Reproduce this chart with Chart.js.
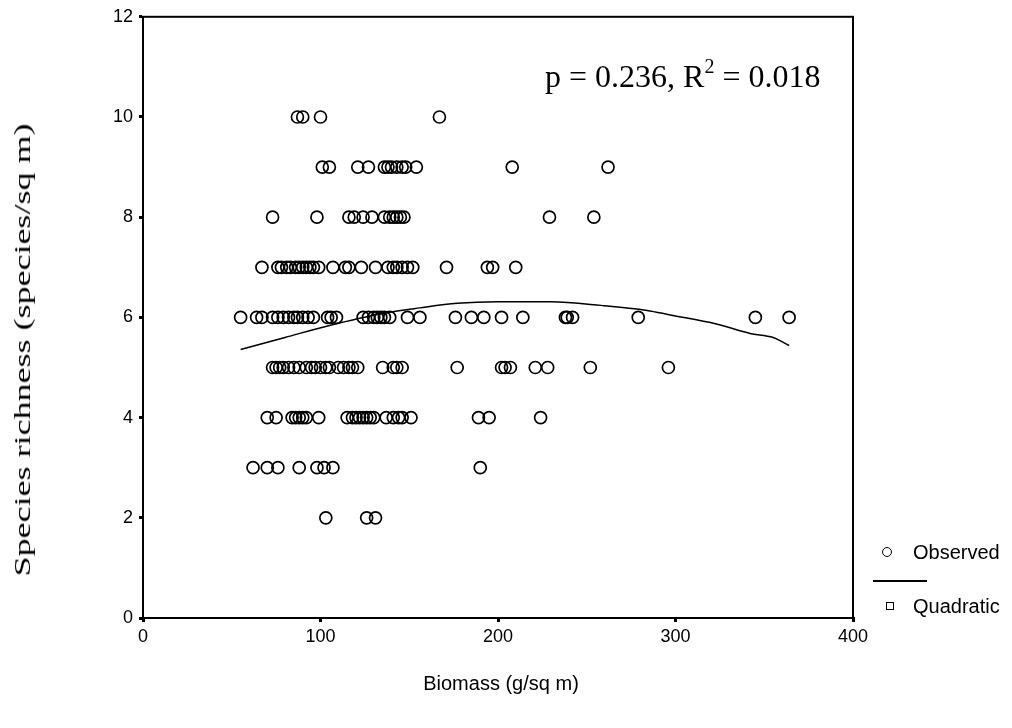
<!DOCTYPE html>
<html>
<head>
<meta charset="utf-8">
<script src="https://cdn.jsdelivr.net/npm/chart.js@4.4.1/dist/chart.umd.min.js"></script>
<style>
  body { margin: 0; background: #fff; }
  .wrap { position: relative; width: 1012px; height: 728px; }
  .wrap canvas { position: absolute; left: 0; top: 0; }
  .txt { position: absolute; white-space: nowrap; color: #000; line-height: 1; }
  .sans { font-family: "Liberation Sans", Arial, sans-serif; }
  .serif { font-family: "Liberation Serif", "Times New Roman", serif; }
  #ytitle { left: 22px; top: 350px; font-size: 24px; transform: translate(-50%, -50%) rotate(-90deg) scaleX(1.5); }
  #xtitle { left: 501px; top: 683px; font-size: 20px; transform: translate(-50%, -50%); }
  #note { left: 545px; top: 60px; font-size: 32px; }
  #note sup { font-size: 20px; position: relative; top: -4px; vertical-align: top; }
  .leg-circle { position: absolute; left: 882px; top: 547px; width: 8px; height: 8px; border: 1.6px solid #000; border-radius: 50%; }
  .leg-line { position: absolute; left: 873px; top: 580px; width: 54px; height: 2px; background: #000; }
  .leg-square { position: absolute; left: 886px; top: 602px; width: 6px; height: 6px; border: 1.6px solid #000; }
  #obs { left: 913px; top: 542px; font-size: 20px; }
  #quad { left: 913px; top: 596px; font-size: 20px; }
</style>
</head>
<body>
<div class="wrap">
  <canvas id="chart" width="1012" height="728"></canvas>
  <div id="ytitle" class="txt serif">Species richness (species/sq m)</div>
  <div id="xtitle" class="txt sans">Biomass (g/sq m)</div>
  <div id="note" class="txt serif">p = 0.236, R<sup>2</sup> = 0.018</div>
  <div class="leg-circle"></div>
  <div class="leg-line"></div>
  <div class="leg-square"></div>
  <div id="obs" class="txt sans">Observed</div>
  <div id="quad" class="txt sans">Quadratic</div>
</div>
<script>
// biomass values (g/sq m) for each observed species richness level
const biomass2 = [103, 126, 131];
const biomass3 = [62, 70, 76, 88, 98, 102, 107, 190];
const biomass4 = [70, 75, 84, 86, 88, 90, 92, 99, 115, 118, 120, 122, 124, 126, 128, 130, 137, 141, 144, 146, 151, 189, 195, 224];
const biomass5 = [73, 75, 77, 79, 82, 85, 88, 92, 95, 97, 100, 103, 105, 110, 113, 116, 118, 121, 135, 141, 143, 146, 177, 202, 204, 207, 221, 228, 252, 296];
const biomass6 = [55, 64, 67, 73, 76, 79, 82, 85, 87, 90, 93, 96, 104, 106, 109, 124, 127, 130, 132, 134, 136, 139, 149, 156, 176, 185, 192, 202, 214, 238, 239, 242, 279, 345, 364];
const biomass7 = [67, 76, 78, 81, 83, 86, 88, 90, 92, 94, 96, 99, 107, 114, 116, 123, 131, 138, 141, 143, 146, 149, 152, 171, 194, 197, 210];
const biomass8 = [73, 98, 116, 119, 124, 129, 136, 139, 141, 143, 145, 147, 229, 254];
const biomass9 = [101, 105, 121, 127, 136, 138, 140, 143, 146, 148, 154, 208, 262];
const biomass10 = [87, 90, 100, 167];

// quadratic fit
const curveX = [55, 80, 105, 135, 156, 177, 200, 230, 258, 284, 297, 323, 342, 355, 364];
const curveY = [5.36, 5.6, 5.84, 6.08, 6.19, 6.28, 6.31, 6.31, 6.24, 6.14, 6.05, 5.87, 5.68, 5.6, 5.44];

const xTicks = [0, 100, 200, 300, 400];
const yTicks = [0, 2, 4, 6, 8, 10, 12];

const observed = [];
const rows = {2: biomass2, 3: biomass3, 4: biomass4, 5: biomass5, 6: biomass6, 7: biomass7, 8: biomass8, 9: biomass9, 10: biomass10};
Object.keys(rows).forEach(r => {
    rows[r].forEach(b => observed.push({x: b, y: Number(r)}));
});
const fitted = curveX.map((x, i) => ({x: x, y: curveY[i]}));

// box round the plot area
const frame = {
    id: 'frame',
    afterDraw(chart) {
        const a = chart.chartArea;
        const ctx = chart.ctx;
        ctx.save();
        ctx.strokeStyle = '#000';
        ctx.lineWidth = 2;
        ctx.strokeRect(a.left, a.top, a.right - a.left, a.bottom - a.top);
        ctx.restore();
    }
};

const tickFont = {family: '"Liberation Sans", Arial, sans-serif', size: 18};

new Chart(document.getElementById('chart').getContext('2d'), {
    type: 'scatter',
    data: {
        datasets: [{
            label: 'Observed',
            data: observed,
            pointStyle: 'circle',
            pointRadius: 6,
            borderColor: '#000',
            backgroundColor: 'rgba(0,0,0,0)',
            borderWidth: 1.7
        }, {
            label: 'Quadratic',
            data: fitted,
            showLine: true,
            pointRadius: 0,
            borderColor: '#000',
            borderWidth: 1.5,
            cubicInterpolationMode: 'monotone'
        }]
    },
    options: {
        responsive: false,
        animation: false,
        layout: {padding: {left: 0, right: 159, top: 16, bottom: 0}},
        plugins: {legend: {display: false}, tooltip: {enabled: false}},
        scales: {
            x: {
                min: 0, max: 400,
                afterFit: s => { s.height = 110; },
                afterBuildTicks: s => { s.ticks = xTicks.map(v => ({value: v})); },
                ticks: {color: '#000', font: tickFont, padding: 4, maxRotation: 0},
                grid: {drawOnChartArea: false, color: '#000', lineWidth: 3, tickLength: 4},
                border: {color: '#000', width: 2}
            },
            y: {
                min: 0, max: 12,
                afterFit: s => { s.width = 143; },
                afterBuildTicks: s => { s.ticks = yTicks.map(v => ({value: v})); },
                ticks: {color: '#000', font: tickFont, padding: 6},
                grid: {drawOnChartArea: false, color: '#000', lineWidth: 3, tickLength: 4},
                border: {color: '#000', width: 2}
            }
        }
    },
    plugins: [frame]
});
</script>
</body>
</html>
